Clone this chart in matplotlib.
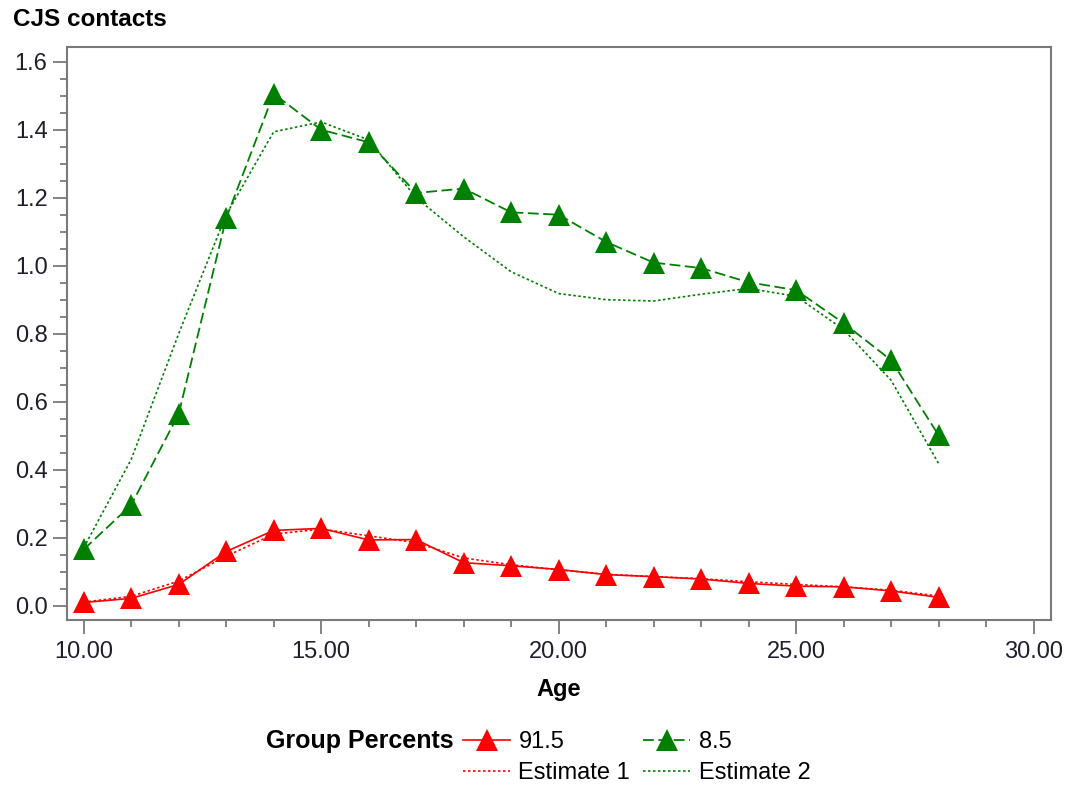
import matplotlib
matplotlib.use("Agg")
import matplotlib.pyplot as plt
from matplotlib.lines import Line2D
from matplotlib.ticker import MultipleLocator, FormatStrFormatter

plt.rcParams['font.family'] = ['Liberation Sans', 'DejaVu Sans']

# ages (x axis)
age = [10, 11, 12, 13, 14, 15, 16, 17, 18, 19, 20, 21, 22, 23, 24, 25, 26, 27, 28]

# observed means, group 1 (91.5%) and group 2 (8.5%)
obs_1 = [0.009, 0.021, 0.062, 0.159, 0.221, 0.227, 0.193, 0.194, 0.126, 0.117,
         0.106, 0.091, 0.085, 0.078, 0.065, 0.057, 0.055, 0.043, 0.024]
obs_2 = [0.165, 0.296, 0.564, 1.140, 1.506, 1.400, 1.363, 1.214, 1.227, 1.157,
         1.150, 1.070, 1.009, 0.993, 0.951, 0.928, 0.831, 0.722, 0.501]

# model estimates
est_1 = [0.010, 0.027, 0.072, 0.145, 0.210, 0.225, 0.205, 0.185, 0.140, 0.120,
         0.105, 0.092, 0.085, 0.079, 0.070, 0.062, 0.055, 0.045, 0.028]
est_2 = [0.170, 0.430, 0.800, 1.150, 1.394, 1.423, 1.370, 1.200, 1.085, 0.982,
         0.918, 0.900, 0.896, 0.916, 0.933, 0.910, 0.812, 0.663, 0.418]

legend_title = "Group Percents"
group_labels = ["91.5", "8.5"]
est_labels = ["Estimate 1", "Estimate 2"]

RED = "#ff0000"
GREEN = "#008000"
AXCOL = "#7a7a7a"
TXT = "#20202c"
FS = 17

fig = plt.figure(figsize=(10.71, 8.08), dpi=100)
ax = fig.add_axes([67 / 1071, 1 - 620 / 808, (1051 - 67) / 1071, (620 - 47) / 808])

# estimates (dotted)
ax.plot(age, est_1, color=RED, lw=1.2, dashes=(1.5, 1.5), zorder=2)
ax.plot(age, est_2, color=GREEN, lw=1.2, dashes=(1.5, 1.5), zorder=2)

# observed
ax.plot(age, obs_1, color=RED, lw=1.2, marker="^", ms=16, mew=0, zorder=3)
ax.plot(age, obs_2, color=GREEN, lw=1.3, dashes=(6, 2.5), marker="^", ms=16,
        mew=0, zorder=3)

ax.set_xlim(9.648, 30.367)
ax.set_ylim(-0.0426, 1.6435)

ax.xaxis.set_major_locator(MultipleLocator(5))
ax.xaxis.set_minor_locator(MultipleLocator(1))
ax.xaxis.set_major_formatter(FormatStrFormatter("%.2f"))
ax.yaxis.set_major_locator(MultipleLocator(0.2))
ax.yaxis.set_minor_locator(MultipleLocator(0.05))
ax.yaxis.set_major_formatter(FormatStrFormatter("%.1f"))

for s in ax.spines.values():
    s.set_color(AXCOL)
    s.set_linewidth(1.5)

ax.tick_params(which="major", length=10, width=1.3, color=AXCOL, labelsize=FS,
               labelcolor=TXT, pad=4)
ax.tick_params(which="minor", length=5, width=1.3, color=AXCOL)
ax.tick_params(axis="x", which="major", pad=5)

ax.set_xlabel("Age", fontsize=FS, fontweight="bold", color="black", labelpad=11)

fig.text(13 / 1071, 1 - 19 / 808, "CJS contacts", fontsize=17.5, fontweight="bold",
         ha="left", va="center")

# legend
fig.text(454 / 1071, 1 - 741 / 808, legend_title, fontsize=18, fontweight="bold",
         ha="right", va="center")
handles = [
    Line2D([], [], color=RED, lw=1.2, marker="^", ms=16, mew=0),
    Line2D([], [], color=RED, lw=1.2, dashes=(1.5, 1.5)),
    Line2D([], [], color=GREEN, lw=1.3, dashes=(6, 2.5), marker="^", ms=16, mew=0),
    Line2D([], [], color=GREEN, lw=1.2, dashes=(1.5, 1.5)),
]
labels = [group_labels[0], est_labels[0], group_labels[1], est_labels[1]]
fig.legend(handles, labels, ncol=2, frameon=False, fontsize=FS,
           loc="upper left", bbox_to_anchor=(463 / 1071, 1 - 731 / 808),
           borderpad=0, handlelength=2.0, handletextpad=0.35, columnspacing=0.55,
           labelspacing=0.4, borderaxespad=0)

fig.savefig("out.png", dpi=100)
